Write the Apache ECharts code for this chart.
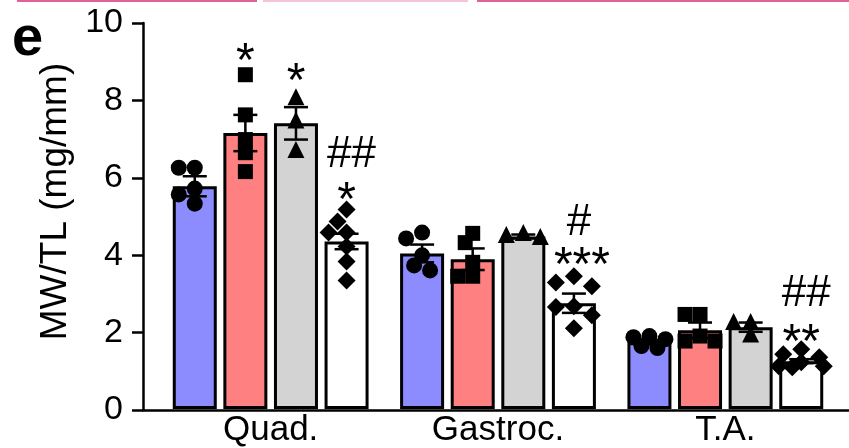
<!DOCTYPE html>
<html>
<head>
<meta charset="utf-8">
<script src="https://cdn.jsdelivr.net/npm/echarts@6/dist/echarts.min.js"></script>
<style>
  html, body { margin: 0; padding: 0; background: #fff; }
  #chart { width: 849px; height: 448px; }
</style>
</head>
<body>
<div id="chart"></div>
<script>
// muscle weight / tibia length
const categories = ['Quad.', 'Gastroc.', 'T.A.'];

const meanBlue  = [5.77, 4.03, 1.73];
const meanRed   = [7.15, 3.88, 2.04];
const meanGray  = [7.40, 4.47, 2.12];
const meanWhite = [4.34, 2.74, 1.24];

const semBlue  = [0.26, 0.23, 0.05];
const semRed   = [0.47, 0.28, 0.20];
const semGray  = [0.42, 0.05, 0.12];
const semWhite = [0.20, 0.25, 0.05];

// individual animals, per category
const ptsBlue  = [[6.25, 6.25, 5.71, 5.56, 5.32], [4.57, 4.42, 3.98, 3.72, 3.59], [1.89, 1.86, 1.81, 1.63, 1.58]];
const ptsRed   = [[8.66, 7.62, 6.98, 6.64, 6.15], [4.55, 4.31, 3.80, 3.44, 3.44], [2.45, 2.45, 1.89, 1.76, 1.76]];
const ptsGray  = [[8.09, 7.49, 6.72], [4.57, 4.52, 4.47], [2.27, 2.27, 1.94]];
const ptsWhite = [[5.17, 4.86, 4.57, 4.57, 4.21, 3.82, 3.33], [3.44, 3.28, 3.18, 2.66, 2.64, 2.43, 2.09], [1.55, 1.42, 1.34, 1.21, 1.11, 1.11, 1.08]];

// significance marks
const annoCat   = [0, 0, 0, 0, 1, 1, 2, 2];
const annoGroup = [1, 2, 3, 3, 3, 3, 3, 3];
const annoText  = ['*', '*', '##', '*', '#', '***', '##', '**'];
const annoY     = [9.28, 8.76, 6.59, 5.68, 4.83, 4.00, 2.97, 2.00];

const yTicks = [0, 2, 4, 6, 8, 10];

// layout
const FONT = '"Liberation Sans", Arial, sans-serif';
const GRID_TOP = 23, GRID_H = 387;
const BAR_LEFT = 157, BAR_W_AREA = 682;
const BAND = BAR_W_AREA / categories.length;
const BAR_W = 44, BAR_GAP = 0.15;
const STEP = BAR_W * (1 + BAR_GAP);
const PX_PER_UNIT = GRID_H / (yTicks[yTicks.length - 1] - yTicks[0]);

const means = [meanBlue, meanRed, meanGray, meanWhite];
const sems = [semBlue, semRed, semGray, semWhite];
const pts = [ptsBlue, ptsRed, ptsGray, ptsWhite];
const colors = ['#8c8cff', '#ff8080', '#d3d3d3', '#ffffff'];
const symbols = ['circle', 'rect', 'triangle', 'diamond'];
const symSize = [16, 15, 17, 18];

function barOffset(g) {
    return (g - 1.5) * STEP / BAND;
}

// simple beeswarm so dots don't sit on top of each other
function swarm(values, size) {
    const placed = [];
    const minD = size * 0.75;
    const cands = [0, -0.5, 0.5, -1, 1, -1.25, 1.25].map(k => k * size);
    return values.map(v => {
        const y = v * PX_PER_UNIT;
        let best = 0, bestD = -1;
        for (const dx of cands) {
            let d = Infinity;
            placed.forEach(p => {
                d = Math.min(d, Math.hypot(p[0] - dx, p[1] - y));
            });
            if (d >= minD) { best = dx; bestD = d; break; }
            if (d > bestD) { bestD = d; best = dx; }
        }
        placed.push([best, y]);
        return best;
    });
}

const series = [];

means.forEach((m, g) => {
    series.push({
        type: 'bar',
        xAxisIndex: 1,
        yAxisIndex: 1,
        data: m,
        barWidth: BAR_W,
        barGap: (BAR_GAP * 100) + '%',
        itemStyle: { color: colors[g], borderColor: '#000', borderWidth: 3 },
        z: 2,
        animation: false
    });
});

means.forEach((m, g) => {
    series.push({
        type: 'custom',
        xAxisIndex: 2,
        yAxisIndex: 1,
        data: m.map((v, c) => [c + barOffset(g), v, sems[g][c]]),
        renderItem: (params, api) => {
            const x = api.value(0), v = api.value(1), s = api.value(2);
            const top = api.coord([x, v + s]);
            const bot = api.coord([x, v - s]);
            const st = { stroke: '#000', lineWidth: 2.5 };
            return {
                type: 'group',
                children: [
                    { type: 'line', shape: { x1: top[0], y1: top[1], x2: bot[0], y2: bot[1] }, style: st },
                    { type: 'line', shape: { x1: top[0] - 12, y1: top[1], x2: top[0] + 12, y2: top[1] }, style: st },
                    { type: 'line', shape: { x1: bot[0] - 12, y1: bot[1], x2: bot[0] + 12, y2: bot[1] }, style: st }
                ]
            };
        },
        z: 3,
        animation: false
    });
});

pts.forEach((grp, g) => {
    const data = [];
    grp.forEach((vals, c) => {
        const jit = swarm(vals, symSize[g]);
        vals.forEach((v, i) => data.push([c + barOffset(g) + jit[i] / BAND, v]));
    });
    series.push({
        type: 'scatter',
        xAxisIndex: 2,
        yAxisIndex: 1,
        data: data,
        symbol: symbols[g],
        symbolSize: symSize[g],
        itemStyle: { color: '#000', opacity: 1 },
        z: 4,
        animation: false
    });
});

series.push({
    type: 'scatter',
    xAxisIndex: 2,
    yAxisIndex: 1,
    symbolSize: 1,
    itemStyle: { color: 'rgba(0,0,0,0)', opacity: 1 },
    data: annoText.map((t, i) => ({
        value: [annoCat[i] + barOffset(annoGroup[i]), annoY[i]],
        label: {
            show: true,
            position: 'inside',
            formatter: t,
            color: '#000',
            opacity: 1,
            fontFamily: FONT,
            fontSize: t[0] === '*' ? 48 : 44,
            offset: [t === '***' ? 8 : (t[0] === '#' ? 5 : 0), t[0] === '*' ? 12 : 0]
        }
    })),
    z: 5,
    silent: true,
    animation: false
});

const chart = echarts.init(document.getElementById('chart'));
chart.setOption({
    backgroundColor: '#fff',
    animation: false,
    grid: [
        { left: 143, right: 0, top: GRID_TOP, height: GRID_H },
        { left: BAR_LEFT, width: BAR_W_AREA, top: GRID_TOP, height: GRID_H }
    ],
    xAxis: [
        {
            gridIndex: 0, type: 'value', min: 0, max: 1,
            axisLine: { show: true, lineStyle: { color: '#000', width: 2.5 } },
            axisTick: { show: false }, axisLabel: { show: false }, splitLine: { show: false }
        },
        {
            gridIndex: 1, type: 'category', data: categories,
            axisLine: { show: false }, axisTick: { show: false },
            axisLabel: { color: '#000', fontFamily: FONT, fontSize: 35, margin: 4 }
        },
        {
            gridIndex: 1, type: 'value', min: -0.5, max: categories.length - 0.5, show: false
        }
    ],
    yAxis: [
        {
            gridIndex: 0, type: 'value', min: 0, max: 10, interval: 2,
            name: 'MW/TL (mg/mm)', nameLocation: 'middle', nameGap: 56,
            nameTextStyle: { color: '#000', fontFamily: FONT, fontSize: 37, padding: [0, 0, 0, 30] },
            axisLine: { show: true, lineStyle: { color: '#000', width: 2.5 } },
            axisTick: { show: true, length: 11, lineStyle: { color: '#000', width: 2.5 } },
            axisLabel: { color: '#000', fontFamily: FONT, fontSize: 34, margin: 20 },
            splitLine: { show: false }
        },
        {
            gridIndex: 1, type: 'value', min: 0, max: 10, show: false, splitLine: { show: false }
        }
    ],
    graphic: [
        { type: 'rect', shape: { x: 17, y: 0, width: 240, height: 2 }, style: { fill: '#e0609c' } },
        { type: 'rect', shape: { x: 263, y: 0, width: 205, height: 2 }, style: { fill: '#f6c3dc' } },
        { type: 'rect', shape: { x: 477, y: 0, width: 372, height: 2 }, style: { fill: '#e0609c' } },
        {
            type: 'text', left: 12, top: 12,
            style: { text: 'e', font: 'bold 56px ' + FONT, fill: '#000' }
        }
    ],
    series: series
});
</script>
</body>
</html>
